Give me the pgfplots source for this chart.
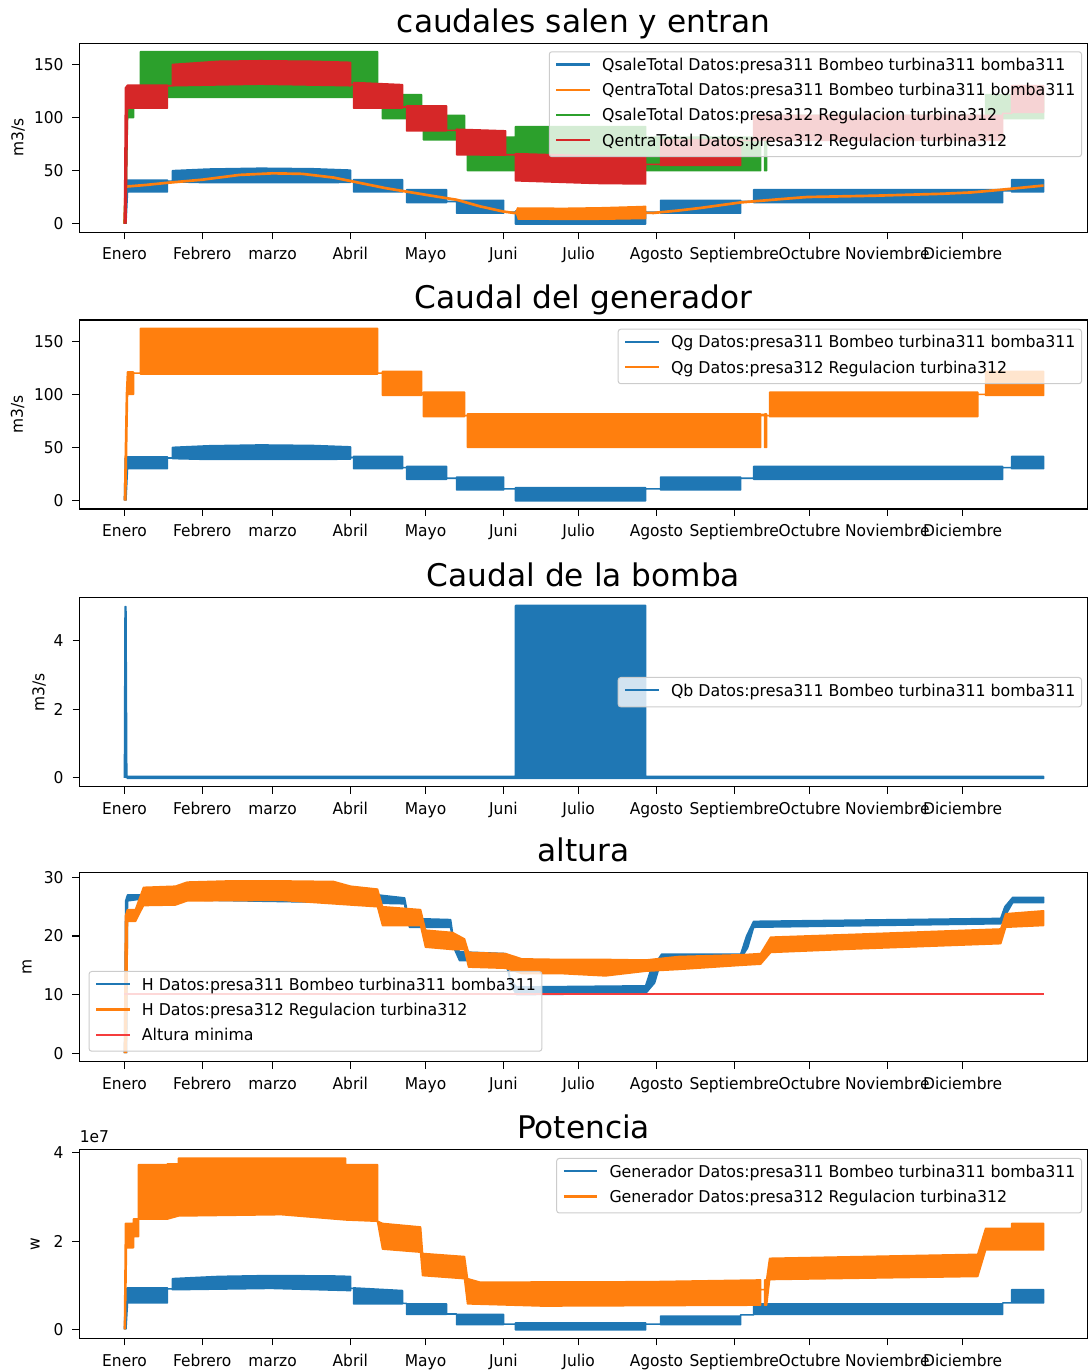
\documentclass[border=0pt]{standalone}
\usepackage{fontspec}
\setmainfont{DejaVu Sans}
\newfontfamily\tickff[FakeStretch=0.95]{DejaVu Sans}
\newfontfamily\legff[FakeStretch=0.97]{DejaVu Sans}
\usepackage{pgfplots}
\pgfplotsset{compat=1.18}
\definecolor{c0}{HTML}{1F77B4}
\definecolor{c1}{HTML}{FF7F0E}
\definecolor{c2}{HTML}{2CA02C}
\definecolor{c3}{HTML}{D62728}
\definecolor{cr}{HTML}{F53C3C}
\newcommand{\tickfont}{\tickff\fontsize{12.2}{14}\selectfont}
\newcommand{\legfont}{\legff\fontsize{12.2}{14}\selectfont}
\pgfplotsset{
  panel/.style={
    scale only axis, width=756pt, height=141.75pt,
    xmin=-430, xmax=9210,
    clip mode=individual,
    xtick={0,744,1416,2160,2880,3624,4344,5088,5832,6552,7296,8016},
    xticklabels={Enero,Febrero,marzo,Abril,Mayo,Juni,Julio,Agosto,Septiembre,Octubre,Noviembre,Diciembre},
    axis line style={line width=0.8pt},
    tick style={black, line width=0.8pt},
    tick align=outside,
    major tick length=5.25pt,
    xtick pos=left, ytick pos=left,
    tick label style={font=\tickfont},
    /pgf/number format/assume math mode=true,
    xticklabel style={anchor=base, inner sep=0pt, yshift=-15.55pt},
    yticklabel style={anchor=east, inner sep=0pt, xshift=-6.55pt},
    title style={font=\fontsize{23.4}{27}\selectfont, at={(0.5,1)}, anchor=base, yshift=2.25pt, inner sep=0pt},
    label style={font=\tickfont},
    legend cell align=left,
    legend image code/.code={\draw[##1, line width=1.65pt] (0pt,1.4pt) -- (25pt,1.4pt);},
    legend style={font=\legfont, fill=white, fill opacity=0.8, draw opacity=1, text opacity=1,
      draw=black!20, line width=0.75pt, rounded corners=2pt, inner xsep=4.5pt, inner ysep=5.5pt,
      row sep=7.9pt, column sep=8.5pt, nodes={inner sep=0pt, text height=8.5pt, text depth=2.5pt}},
  },
  band/.style={fill=#1, draw=#1, line width=1.2pt, line join=round, forget plot},
}
\begin{document}
\begin{tikzpicture}
\path[use as bounding box] (0,0) rectangle (816.75pt,1029pt);

% ---------------- Panel 1 ----------------
\begin{axis}[panel, at={(59.625pt,854.8pt)}, anchor=south west,
  ymin=-8, ymax=170, ytick={0,50,100,150},
  title={caudales salen y entran}, ylabel={m3/s},
  ylabel style={at={(axis description cs:-0.0609,0.5)}, anchor=center},
  legend style={at={(1,1)}, anchor=north east, xshift=-4.1pt, yshift=-6pt}]
% QsaleTotal presa311
\addplot[band=c0] coordinates {
(0,0) (8,40) (29,41) (411,41) (411,40) (459,40) (459,50) (800,51.5) (1300,52.3) (1800,51.8) (2162,50.5) (2162,40.5) (2191,40.5) (2191,41.5) (2659,41.5) (2659,31) (2698,31) (2698,32) (3080,32) (3080,21) (3176,21) (3176,22) (3626,22) (3626,11) (3740,11) (3740,12) (4984,12) (4984,11) (5127,11) (5127,22) (5893,22) (5893,21) (6017,21) (6017,32) (8399,32) (8399,31) (8485,31) (8485,41.5) (8790,41.5)
(8790,30) (8485,30) (8485,31) (8399,31) (8399,20) (6017,20) (6017,21) (5893,21) (5893,10) (5127,10) (5127,11) (4984,11) (4984,-0.3) (3740,-0.3) (3740,11) (3626,11) (3626,10) (3176,10) (3176,21) (3080,21) (3080,20) (2698,20) (2698,31) (2659,31) (2659,30) (2191,30) (2191,40.5) (2162,40.5) (2162,39) (1800,38.7) (800,38.7) (459,39.5) (459,40) (411,40) (411,30) (29,30) (14,0)};
% QentraTotal presa311
\addplot[c1, line width=2pt, line join=round, forget plot] coordinates {
(0,0) (12,35) (200,36.5) (400,38.5) (744,41.5) (1100,46) (1416,47.5) (1700,47) (2000,43.5) (2160,40.3) (2500,33.5) (2880,27.3) (3176,22.6) (3400,16.4) (3624,11.5) (3740,10) (4984,10.3) (5060,10.2) (5300,12.5) (5510,14.9) (5893,20.1) (6400,24.2) (6533,25.2) (7165,26.4) (7806,28.2) (8100,29.5) (8380,32) (8790,36)};
\addplot[band=c1] coordinates {
(3740,10) (3760,14.8) (4200,14.5) (4553,15) (4900,16) (4984,16.3) (4984,5) (4553,4.3) (4200,4.2) (3760,4.5)};
% QsaleTotal presa312
\addplot[band=c2] coordinates {
(0,0) (19,100) (29,121) (86,121) (86,120) (153,120) (153,162) (2420,162) (2420,120) (2468,120) (2468,121.5) (2841,121.5) (2841,100) (2860,100) (2860,102) (3252,102) (3252,80) (3281,80) (3281,81.5) (3740,81.5) (3740,91.5) (4984,91.5) (4984,81.5) (6084,81.5) (6084,81) (6122,81) (6122,81.5) (6141,81.5) (6141,80) (6170,80) (6170,102) (8160,102) (8160,100) (8236,100) (8236,121.5) (8790,121.5)
(8790,99) (8236,99) (8236,100) (8160,100) (8160,79) (6170,79) (6170,80) (6141,80) (6141,50) (6122,50) (6122,80) (6084,80) (6084,50) (3281,50) (3281,80) (3252,80) (3252,79) (2860,79) (2860,100) (2841,100) (2841,99) (2468,99) (2468,120) (2420,120) (2420,119) (153,119) (153,120) (86,120) (86,100) (29,100) (12,0)};
% QentraTotal presa312
\addplot[band=c3] coordinates {
(0,0) (10,128) (29,130.5) (411,130.5) (411,130) (459,130) (459,150) (900,153) (1300,153.5) (1800,153) (2162,152) (2162,131) (2191,131) (2191,133) (2659,131) (2659,110) (2698,110) (2698,111) (3080,111) (3080,88) (3176,88) (3176,89) (3645,87.5) (3645,65) (3740,65) (3740,66) (4984,62.5) (4984,56) (5127,56) (5127,79) (5893,79) (5893,78.5) (6017,78.5) (6017,102) (8399,102) (8399,104) (8485,104) (8485,130) (8790,130)
(8790,105) (8485,105) (8485,104) (8399,104) (8399,78.5) (6017,78.5) (5893,78.5) (5893,55) (5127,55) (5127,56) (4984,56) (4984,37.5) (4500,38) (3740,40.5) (3740,65) (3645,65) (3645,64.6) (3176,65) (3176,88) (3080,88) (3080,87.5) (2698,87.5) (2698,110) (2659,110) (2659,109) (2191,109) (2191,131) (2162,131) (2162,130) (1300,131.5) (459,130) (411,130) (411,109) (29,109) (14,0)};
\addlegendimage{c0}\addlegendentry{QsaleTotal Datos:presa311 Bombeo turbina311 bomba311}
\addlegendimage{c1}\addlegendentry{QentraTotal Datos:presa311 Bombeo turbina311 bomba311}
\addlegendimage{c2}\addlegendentry{QsaleTotal Datos:presa312 Regulacion turbina312}
\addlegendimage{c3}\addlegendentry{QentraTotal Datos:presa312 Regulacion turbina312}
\end{axis}

% ---------------- Panel 2 ----------------
\begin{axis}[panel, at={(59.625pt,647.25pt)}, anchor=south west,
  ymin=-8, ymax=170, ytick={0,50,100,150},
  title={Caudal del generador}, ylabel={m3/s},
  ylabel style={at={(axis description cs:-0.0615,0.5)}, anchor=center},
  legend style={at={(1,1)}, anchor=north east, xshift=-4.1pt, yshift=-6.5pt}]
\addplot[band=c0] coordinates {
(0,0) (8,40) (29,41) (411,41) (411,40) (459,40) (459,50) (800,51.5) (1300,52.3) (1800,51.8) (2162,50.5) (2162,40.5) (2191,40.5) (2191,41.5) (2659,41.5) (2659,31) (2698,31) (2698,32) (3080,32) (3080,21) (3176,21) (3176,22) (3626,22) (3626,11) (3740,11) (3740,12) (4984,12) (4984,11) (5127,11) (5127,22) (5893,22) (5893,21) (6017,21) (6017,32) (8399,32) (8399,31) (8485,31) (8485,41.5) (8790,41.5)
(8790,30) (8485,30) (8485,31) (8399,31) (8399,20) (6017,20) (6017,21) (5893,21) (5893,10) (5127,10) (5127,11) (4984,11) (4984,-0.3) (3740,-0.3) (3740,11) (3626,11) (3626,10) (3176,10) (3176,21) (3080,21) (3080,20) (2698,20) (2698,31) (2659,31) (2659,30) (2191,30) (2191,40.5) (2162,40.5) (2162,39) (1800,38.7) (800,38.7) (459,39.5) (459,40) (411,40) (411,30) (29,30) (14,0)};
\addplot[band=c1] coordinates {
(0,0) (19,100) (29,121) (86,121) (86,120) (153,120) (153,162) (2420,162) (2420,120) (2468,120) (2468,121.5) (2841,121.5) (2841,100) (2860,100) (2860,102) (3252,102) (3252,80) (3281,80) (3281,81.5) (6084,81.5) (6084,81) (6122,81) (6122,81.5) (6141,81.5) (6141,80) (6170,80) (6170,102) (8160,102) (8160,100) (8236,100) (8236,121.5) (8790,121.5)
(8790,99) (8236,99) (8236,100) (8160,100) (8160,79) (6170,79) (6170,80) (6141,80) (6141,50) (6122,50) (6122,80) (6084,80) (6084,50) (3281,50) (3281,80) (3252,80) (3252,79) (2860,79) (2860,100) (2841,100) (2841,99) (2468,99) (2468,120) (2420,120) (2420,119) (153,119) (153,120) (86,120) (86,100) (29,100) (12,0)};
\addlegendimage{c0}\addlegendentry{Qg Datos:presa311 Bombeo turbina311 bomba311}
\addlegendimage{c1}\addlegendentry{Qg Datos:presa312 Regulacion turbina312}
\end{axis}

% ---------------- Panel 3 ----------------
\begin{axis}[panel, at={(59.625pt,439pt)}, anchor=south west,
  ymin=-0.26, ymax=5.26, ytick={0,2,4},
  title={Caudal de la bomba}, ylabel={m3/s},
  ylabel style={at={(axis description cs:-0.0401,0.5)}, anchor=center},
  legend style={at={(1,0.5)}, anchor=east, xshift=-4.1pt}]
\addplot[band=c0] coordinates {
(0,0) (6,5) (14,5) (22,0.04) (3740,0.04) (3740,5.03) (4984,5.03) (4984,0.04) (8790,0.04) (8790,-0.02) (22,-0.02)};
\addlegendimage{c0}\addlegendentry{Qb Datos:presa311 Bombeo turbina311 bomba311}
\end{axis}

% ---------------- Panel 4 ----------------
\begin{axis}[panel, at={(59.625pt,232.7pt)}, anchor=south west,
  ymin=-1.45, ymax=30.8, ytick={0,10,20,30},
  title={altura}, ylabel={m},
  ylabel style={at={(axis description cs:-0.052,0.5)}, anchor=center},
  legend style={at={(0,0)}, anchor=south west, xshift=6.8pt, yshift=7.5pt}]
\addplot[band=c0] coordinates {
(0,0) (12,26) (29,27) (153,27) (1000,27.2) (2430,27) (2679,26.5) (2700,24.5) (2726,23) (3119,22.8) (3150,19) (3205,17.3) (3645,17) (3690,12.5) (3750,11.3) (4984,11.5) (5030,14) (5137,16.9) (5893,16.9) (5950,20) (6017,22.5) (8380,23) (8420,25) (8495,26.6) (8790,26.6)
(8790,25.7) (8495,25.7) (8440,24) (8380,22.1) (6017,21.5) (5960,18) (5893,16.1) (5137,16.1) (5070,12) (4984,10.2) (3750,10) (3700,11.5) (3645,15.8) (3205,15.8) (3150,18) (3119,21.5) (2726,21.5) (2700,23) (2679,25.5) (2430,25.6) (153,26.3) (29,26) (20,0)};
\addplot[band=c1] coordinates {
(0,0) (10,23.5) (29,24.5) (105,24.5) (182,28.3) (488,28.5) (600,29.2) (1000,29.4) (1500,29.4) (2000,29.3) (2162,28.5) (2420,28) (2468,25) (2832,24.5) (2879,21) (3138,20.6) (3252,19.5) (3291,17.2) (3645,17) (3800,16.1) (4171,16) (4600,16) (4984,15.9) (5300,16.5) (5893,16.8) (6084,17) (6180,19.8) (7000,20.3) (8380,21.2) (8428,23.8) (8790,24.3)
(8790,21.8) (8428,21.5) (8380,18.7) (7000,17.8) (6180,17.2) (6084,15.2) (5893,15) (5300,14.3) (4984,14) (4600,13.2) (4171,13.6) (3800,13.6) (3645,14.5) (3291,14.7) (3252,17.7) (3138,17.7) (2879,18.1) (2832,21.8) (2468,21.8) (2420,25) (2162,25.3) (1500,26.1) (600,26) (488,25.3) (182,25.2) (105,22.5) (29,22.5) (18,0)};
\addplot[cr, line width=1.65pt, forget plot] coordinates {(0,10.1) (8790,10.1)};
\addlegendimage{c0}\addlegendentry{H Datos:presa311 Bombeo turbina311 bomba311}
\addlegendimage{c1}\addlegendentry{H Datos:presa312 Regulacion turbina312}
\addlegendimage{cr}\addlegendentry{Altura minima}
\end{axis}

% ---------------- Panel 5 ----------------
\begin{axis}[panel, at={(59.625pt,25.3pt)}, anchor=south west,
  ymin=-0.2, ymax=4.08, ytick={0,2,4},
  title={Potencia}, ylabel={w},
  ylabel style={at={(axis description cs:-0.044,0.5)}, anchor=center},
  legend style={at={(1,1)}, anchor=north east, xshift=-4.1pt, yshift=-6.5pt}]
\addplot[band=c0] coordinates {
(0,0) (10,0.9) (29,0.94) (411,0.94) (411,0.92) (459,0.92) (459,1.15) (900,1.2) (1400,1.22) (2000,1.21) (2162,1.2) (2162,0.93) (2191,0.93) (2191,0.94) (2659,0.88) (2659,0.59) (2698,0.59) (2698,0.58) (3080,0.58) (3080,0.35) (3176,0.35) (3176,0.34) (3626,0.34) (3626,0.12) (3740,0.12) (3740,0.15) (4984,0.15) (4984,0.12) (5127,0.12) (5127,0.3) (5893,0.3) (5893,0.33) (6017,0.33) (6017,0.58) (8399,0.58) (8399,0.6) (8485,0.6) (8485,0.9) (8790,0.9)
(8790,0.6) (8485,0.6) (8399,0.6) (8399,0.34) (6017,0.34) (6017,0.33) (5893,0.33) (5893,0.11) (5127,0.11) (5127,0.12) (4984,0.12) (4984,-0.01) (3740,-0.01) (3740,0.12) (3626,0.12) (3626,0.11) (3176,0.11) (3176,0.35) (3080,0.35) (3080,0.34) (2698,0.34) (2698,0.59) (2659,0.59) (2659,0.58) (2191,0.58) (2191,0.93) (2162,0.93) (2162,0.88) (1400,0.93) (459,0.9) (459,0.92) (411,0.92) (411,0.6) (29,0.6) (14,0)};
\addplot[band=c1] coordinates {
(0,0) (10,2.4) (19,2.4) (86,2.4) (86,2.5) (134,2.5) (134,3.73) (411,3.73) (411,3.75) (517,3.75) (517,3.88) (2114,3.88) (2114,3.73) (2420,3.73) (2420,2.45) (2468,2.4) (2832,2.32) (2851,1.72) (3252,1.65) (3281,1.15) (3400,1.07) (5000,1.08) (6084,1.12) (6084,0.9) (6122,0.9) (6122,1.12) (6141,1.12) (6170,1.61) (8160,1.7) (8236,2.29) (8485,2.29) (8485,2.4) (8790,2.4)
(8790,1.8) (8236,1.8) (8160,1.2) (6170,1.13) (6141,0.55) (6122,0.55) (6122,0.9) (6084,0.9) (6084,0.55) (4000,0.53) (3281,0.58) (3252,1.15) (2851,1.22) (2832,1.75) (2468,1.82) (2420,2.45) (2114,2.48) (1500,2.6) (517,2.57) (411,2.5) (134,2.5) (134,2.1) (86,2.1) (86,1.85) (19,1.85) (8,0)};
\addlegendimage{c0}\addlegendentry{Generador Datos:presa311 Bombeo turbina311 bomba311}
\addlegendimage{c1}\addlegendentry{Generador Datos:presa312 Regulacion turbina312}
\node[anchor=base west, inner sep=0pt, font=\tickfont] at (rel axis cs:0,1) [yshift=4.7pt] {1e7};
\end{axis}
\end{tikzpicture}
\end{document}
